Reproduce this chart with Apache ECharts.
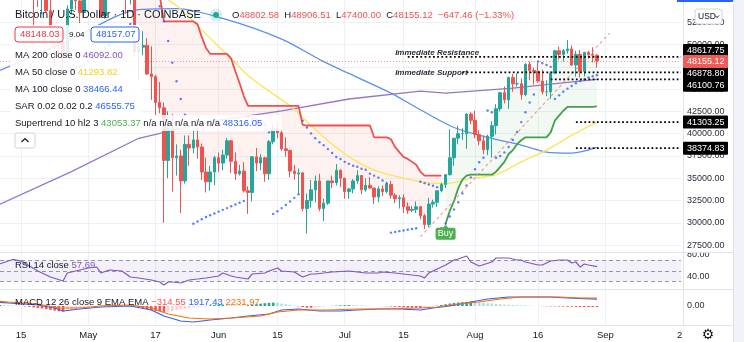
<!DOCTYPE html>
<html><head><meta charset="utf-8">
<script src="https://cdn.jsdelivr.net/npm/echarts@6/dist/echarts.min.js"></script>
<style>html,body{margin:0;padding:0;background:#fff}#c{width:744px;height:342px}</style>
</head><body><div id="c"></div>
<script>
// ---------- categories ----------
const startDay = Date.UTC(2021, 3, 10);
const dates = [];
for (let i = 0; i < 163; i++) dates.push(new Date(startDay + i * 86400000).toISOString().slice(0, 10));
const tickLabels = {'2021-04-15':'15','2021-05-01':'May','2021-05-17':'17','2021-06-01':'Jun','2021-06-15':'15','2021-07-01':'Jul','2021-07-15':'15','2021-08-01':'Aug','2021-08-16':'16','2021-09-01':'Sep'};
const priceTicks = [25000, 55000, 2500];

// ---------- candles [open, high, low, close] Apr 10 .. Aug 30 ----------
const candles = [
[58080,61200,57900,59780],[59780,60700,59000,59970],[59970,61200,59400,59840],[59840,63800,59800,63580],[63580,64900,61000,62960],
[62960,63800,62000,63200],[63200,63600,60000,61400],[61400,62500,59600,60000],[60000,61000,51500,56200],[56200,57500,54200,55700],
[55700,57000,53400,56500],[56500,56800,53600,53800],[53800,55500,50400,51700],[51700,52100,47500,51200],[51200,51200,48800,50100],
[50100,50500,47000,49100],[49100,54400,48800,54000],[54000,55500,53400,55000],[55000,56400,53900,54900],[54900,55200,52400,53600],
[53600,58000,53100,57700],
[57700,58400,57000,57800],[57800,57900,56100,56600],[56600,58900,56500,57200],[57200,57200,53000,53200],[53200,57800,52900,57500],
[57500,58400,55300,56400],[56400,58600,55400,57400],[57400,59500,56900,58900],[58900,59300,56300,58300],[58300,59500,53500,55800],
[55800,56900,54500,56700],[56700,58000,48600,49200],[49200,51400,46000,49700],[49700,51500,48800,49900],[49900,50700,46600,46700],
[46700,49800,43800,46400],[46400,46600,42000,43500],[43500,45800,42300,42900],[42900,43500,30000,37000],[37000,42500,35000,40600],
[40600,42200,33500,37300],[37300,38800,35300,37500],[37500,38200,31100,34700],[34700,39800,34400,38800],[38800,39800,36400,38400],
[38400,40800,37800,39300],[39300,40400,37200,38500],[38500,38900,34800,35700],[35700,37300,33400,34600],[34600,36400,33600,35700],
[35700,37500,34200,37300],
[37300,37900,35700,36700],[36700,38200,35900,37600],[37600,39500,37200,39200],[39200,39300,35600,36900],[36900,37900,34800,35500],
[35500,36500,35300,35800],[35800,36800,33400,33600],[33600,34100,31000,33400],[33400,37500,32400,37400],[37400,38400,35800,36700],
[36700,37700,35900,37300],[37300,37400,34600,35500],[35500,39300,34800,39100],[39100,41000,38800,40500],[40500,41300,39500,40100],
[40100,40500,38100,38300],[38300,39600,37400,38100],[38100,38200,35100,35800],[35800,36500,34800,35500],[35500,36100,33300,35600],
[35600,35700,31300,31600],[31600,33300,28800,32500],[32500,34800,31700,33700],[33700,35300,32300,34700],[34700,35500,31300,31600],
[31600,32700,30200,32200],[32200,34700,32000,34700],[34700,35300,33900,34500],[34500,36600,34200,35900],[35900,36000,34000,35000],
[35000,35000,32700,33500],[33500,33900,32700,33800],[33800,34900,33300,34700],[34700,35900,34400,35300],[35300,35300,33200,33700],
[33700,35000,33500,34200],[34200,35100,33800,33900],[33900,33900,32100,32900],[32900,34100,32300,33800],[33800,34200,33000,33500],
[33500,34600,33300,34300],[34300,34700,32700,33100],[33100,33300,32200,32700],[32700,33100,31600,32800],[32800,33200,31100,31800],
[31800,32300,31000,31400],[31400,31900,31200,31500],[31500,32400,31100,31800],[31800,31900,30400,30800],[30800,31000,29300,29800],
[29800,32800,29500,32100],[32100,32600,31700,32300],[32300,33600,31800,33600],[33600,34500,33400,34300],[34300,35400,33900,35400],
[35400,40500,35300,37300],[37300,39500,36400,39500],[39500,40900,38800,40000],[40000,40600,39300,40000],[40000,42300,38300,42200],
[42200,42400,41100,41500],
[41500,42600,39500,39900],[39900,40400,38700,39200],[39200,39800,37700,38200],[38200,39900,37600,39700],[39700,41400,37300,40900],
[40900,43300,39900,42800],[42800,44700,42500,44600],[44600,45300,43400,43800],[43800,46400,42800,46300],[46300,46700,44700,45600],
[45600,46800,45300,45600],[45600,46200,43800,44400],[44400,47900,44200,47800],[47800,48100,46000,47100],[47100,47400,45500,47000],
[47000,48000,45700,45900],[45900,47200,44400,44700],[44700,46000,44200,44700],[44700,47000,43900,46800],[46800,49400,46700,49300],
[49300,49800,48300,48900],[48900,49500,48100,49300],[49300,50500,49000,49500],[49500,49900,47600,47700],[47700,49300,46400,48900],
[48900,49400,46300,47000],[47000,49200,46400,49100],[49100,49300,48400,48900],[48900,49700,48000,48800],[48802.58,48906.51,47400,48155.12]
];

// ---------- moving averages [index, value] ----------
const ma200 = [[0,32095],[17,35733],[33,39482],[50,41356],[67,42569],[83,43892],[100,44774],[106,44553],[122,45104],[135,45766],[142,46092]];
const ma100 = [[0,47089],[17,50617],[33,53924],[42,54035],[53,52932],[67,50617],[77,48081],[83,46758],[93,44553],[100,42679],[108,40694],[116,39592],[124,38710],[130,37938],[136,37828],[142,38466]];
const ma50 = [[33,57000],[42,54365],[49,51168],[55,48412],[59,46538],[64,44774],[69,43120],[74,40915],[79,38820],[85,36836],[90,35733],[100,34631],[106,34410],[112,34961],[118,35402],[124,36836],[130,38159],[136,39812],[142,41294]];

// ---------- supertrend (down = red, up = green), per day ----------
const stDown = [];
const stUp = [];
const stDownVals = {32:58000,33:58000,34:57500,35:57000,36:56500,37:56000,38:55500,
39:52600,40:52600,41:52600,42:52600,43:52600,44:52600,45:52600,46:52600,47:52270,48:50837,49:49625,
50:48963,51:48963,52:48963,53:48963,54:48963,55:48412,56:46979,57:45656,58:44222,
59:43120,60:43120,61:43120,62:43120,63:43120,64:43120,65:43120,66:43120,67:43120,68:43120,69:43120,70:43120,71:43120,
72:41000,73:40915,74:40915,75:40915,76:40915,77:40915,78:40915,79:40915,80:40915,81:40915,82:40915,83:40915,84:40915,85:40915,86:40915,87:40915,88:40915,
89:39592,90:39592,91:39592,92:39592,93:39371,94:38489,95:37938,96:37387,97:37166,98:36836,99:36505,100:35733,
101:35292,102:35292,103:35292,104:35292,105:35292};
const stUpVals = {106:29890,107:31323,108:32426,109:33859,110:34851,111:35292,112:35402,113:35402,114:35402,115:35402,116:35402,117:35402,
118:35733,119:36284,120:36836,121:37718,122:38159,123:38820,124:39261,125:39592,126:39592,127:39592,128:39592,129:39592,130:39592,
131:40143,132:41466,133:42017,134:42569,135:43010,136:43010,137:43010,138:43010,139:43010,140:43010,141:43010,142:43053.37};
for (let i = 0; i < candles.length; i++) { stDown.push(stDownVals[i] ?? null); stUp.push(stUpVals[i] ?? null); }

// ---------- parabolic SAR ----------
const sarVals = {16:47000,17:47150,18:47310,19:47530,20:47640,21:48100,22:48500,23:48850,24:49200,25:49550,26:49900,27:50300,28:50800,29:51300,30:51800,31:52300,
32:59500,33:59000,34:58400,35:57700,36:56800,37:55700,38:54300,39:52600,40:50400,41:47970,42:45880,43:43890,44:42130,45:40800,
46:29900,47:30150,48:30400,49:30650,50:30850,51:31050,52:31250,53:31450,54:31650,55:31850,56:32050,57:32250,58:32450,
59:41900,60:41700,61:41500,62:41250,63:41000,64:40150,
65:31000,66:31300,67:31650,68:32000,69:32400,70:32800,71:33200,
72:41466,73:40694,74:40033,75:39482,76:39041,77:38710,78:38269,79:37828,80:37387,81:37166,82:36836,83:36615,84:36395,85:36284,86:36064,87:35954,88:35513,89:35292,90:35072,91:34741,92:34410,
93:28900,94:28980,95:29060,96:29140,97:29220,98:29300,99:29380,
100:34600,101:34450,102:34300,103:34150,104:34000,
105:29400,106:29900,107:30700,108:31500,109:32300,110:33300,111:34200,112:35100,113:36000,114:36800,115:37300,
116:42600,117:42400,
118:37300,119:37500,120:37900,121:38500,122:39300,123:40200,124:41300,125:42400,126:43500,127:44400,
128:48100,129:47900,130:47700,131:47500,
132:43900,133:44300,134:44700,135:45050,136:45350,137:45650,138:45900,139:46100,140:46300,141:46450,142:46555.75};

// ---------- levels ----------
const levels = [
  {name:'Immediate Resistance', value:48617.75, from:97},
  {name:'Immediate Support', value:46878.80, from:110},
  {name:'', value:46100.76, from:131},
  {name:'', value:41303.25, from:137},
  {name:'', value:38374.83, from:137}
];
const lastPrice = 48155.12;
const trendLine = [[100,28434],[145,51278]];
const buyIndex = 106;

// ---------- RSI [index, value] ----------
const rsiPts = [[0,63],[3,71],[5,68],[7,58.9],[9,49.6],[12,38.5],[15,31.1],[16,45.9],[17,47.8],[19,51.5],[21,55.2],[23,57],[24,45.9],[26,51.5],[29,49.6],[31,38.5],[33,36.7],[36,33],[38,29.3],[39,23.7],[40,29.3],[41,29.3],[43,27.4],[45,33],[47,34.8],[49,36.7],[52,40.4],[53,45.9],[55,40.4],[56,38.5],[59,34.8],[60,44.1],[63,45.9],[64,49.6],[66,55.2],[67,49.6],[70,47.8],[72,38.5],[74,44.1],[75,44.1],[77,45.9],[79,47.8],[83,49.6],[85,47.8],[87,45.9],[90,45.9],[91,47.8],[94,45.9],[96,44.1],[98,42.2],[100,40.4],[101,36.7],[102,45.9],[104,53.3],[106,60.7],[108,70],[109,71.9],[111,77.4],[112,66.3],[114,58.9],[117,66.3],[118,73.7],[121,73.7],[123,70],[124,70],[125,66.3],[128,60.7],[129,60.7],[131,68.1],[133,70],[135,70],[136,64.4],[137,66.3],[138,57],[139,62.6],[140,60.7],[142,57.69]];

// ---------- MACD ----------
const macdPts = [[0,1000],[2,849],[9,283],[13,-566],[15,-1415],[19,-849],[24,-283],[31,0],[36,-1132],[39,-2830],[43,-4245],[46,-4528],[50,-3962],[55,-3396],[59,-2830],[64,-2264],[67,-1132],[71,-849],[76,-1415],[81,-1415],[85,-1132],[90,-849],[95,-849],[100,-1132],[103,-566],[107,0],[112,1132],[116,1981],[121,2547],[126,2547],[131,2547],[135,2264],[142,1917.43]];
const signalPts = [[0,1300],[2,1132],[9,566],[14,-566],[19,-566],[24,0],[31,283],[36,-566],[40,-2264],[45,-3396],[50,-3679],[55,-3396],[62,-2830],[66,-1698],[71,-1132],[78,-1132],[85,-849],[90,-849],[100,-566],[104,-283],[109,566],[114,1132],[119,1981],[124,2547],[129,2547],[133,2547],[138,2264],[142,2231.97]];
const histVals = [300,250,200,150,100,60,
-100,-250,-400,-550,-700,
-900,-1100,-1300,-1500,-1600,
-1400,-1150,-900,-700,-500,-350,-200,
-50,100,200,300,350,300,250,200,150,
-150,-400,-650,-900,-1150,-1400,-1550,-1650,-1600,
-1400,-1150,-950,-750,-550,-350,-200,
-150,50,200,300,350,400,350,300,250,200,150,
250,350,500,650,800,900,950,850,700,
500,300,100,-100,-300,-450,-500,-400,-300,-200,
-50,50,120,180,220,250,230,200,160,120,80,50,20,
-30,-80,-150,-220,-300,-380,-450,-500,-520,-560,-480,
-300,-100,100,300,500,700,850,1000,1100,1150,1200,
1100,1000,900,800,700,600,500,400,350,300,250,200,150,100,
50,0,-50,-80,-100,-120,-150,-180,-200,-220,-250,-270,-290,-300,-310,-314.55];

// ---------- build ----------
const FONT = 'Liberation Sans, Arial, sans-serif';
const UP = '#26a69a', DOWN = '#ef5350';
const bodyMid = candles.map(c => (c[0] + c[3]) / 2);
const isTick = (i, v) => Object.prototype.hasOwnProperty.call(tickLabels, v);

function xAx(gi, showLabel) {
  return {type:'category', gridIndex:gi, data:dates, boundaryGap:false,
    axisLine:{show:false}, axisTick:{show:false},
    axisLabel:{show:showLabel, interval:isTick, formatter:v => tickLabels[v] || '', color:'#131722', fontSize:9.5, fontFamily:FONT, margin:5},
    splitLine:{show:true, interval:isTick, lineStyle:{color:'#eef0f5', width:1}}};
}
const redBase = [], redFill = [], greenBase = [], greenFill = [];
for (let i = 0; i < candles.length; i++) {
  redBase.push(stDown[i] != null ? bodyMid[i] : null);
  redFill.push(stDown[i] != null ? stDown[i] - bodyMid[i] : null);
  greenBase.push(stUp[i] != null ? stUp[i] : null);
  greenFill.push(stUp[i] != null ? bodyMid[i] - stUp[i] : null);
}
const sarData = Object.keys(sarVals).map(k => [+k, sarVals[k]]);
const histData = histVals.map((v, i) => {
  const p = i > 0 ? histVals[i - 1] : v;
  let col;
  if (v >= 0) col = v >= p ? '#26a69a' : '#b2dfdb'; else col = v <= p ? '#ff5252' : '#ffcdd2';
  return {value:[i, v], itemStyle:{color:col}};
});
const hidden = {lineStyle:{opacity:0}, showSymbol:false, symbol:'none', silent:true};

const series = [
  Object.assign({type:'line', name:'rb', data:redBase, stack:'r', z:1}, hidden),
  Object.assign({type:'line', name:'rf', data:redFill, stack:'r', z:1, areaStyle:{color:'rgba(239,83,80,0.11)'}}, hidden),
  Object.assign({type:'line', name:'gb', data:greenBase, stack:'g', z:1}, hidden),
  Object.assign({type:'line', name:'gf', data:greenFill, stack:'g', z:1, areaStyle:{color:'rgba(76,175,80,0.10)'}}, hidden),
  {type:'line', data:ma200, showSymbol:false, symbol:'none', z:3, lineStyle:{color:'#9575cd', width:1.3}},
  {type:'line', data:ma100, showSymbol:false, symbol:'none', smooth:0.3, z:3, lineStyle:{color:'#5b8ff0', width:1.3}},
  {type:'line', data:ma50, showSymbol:false, symbol:'none', smooth:0.3, z:3, lineStyle:{color:'#fbe459', width:1.3}},
  {type:'candlestick', data:candles.map(c => [c[0], c[3], c[2], c[1]]), barWidth:3, z:4,
    itemStyle:{color:UP, color0:DOWN, borderColor:UP, borderColor0:DOWN, borderWidth:1},
    markLine:{silent:true, symbol:'none', label:{show:false}, data:[{yAxis:lastPrice}], lineStyle:{color:'#ef5350', type:[1,2], width:1, opacity:0.6}}},
  {type:'line', data:stDown, showSymbol:false, symbol:'none', z:5, lineStyle:{color:'#f0504c', width:1.8}},
  {type:'line', data:stUp, showSymbol:false, symbol:'none', z:5, lineStyle:{color:'#43a047', width:1.8}},
  {type:'scatter', data:sarData, symbolSize:2.4, z:6, itemStyle:{color:'#2962ff'}},
  {type:'line', data:trendLine, showSymbol:false, symbol:'none', z:6, lineStyle:{color:'#f26b67', width:1.1, type:[3,3], opacity:0.7}}
];
levels.forEach(l => series.push({type:'line', data:[[l.from, l.value],[dates.length - 1, l.value]], showSymbol:false, symbol:'none', z:7,
  lineStyle:{color:'#000', width:1.8, type:[1.8,2.4]}}));
series.push({type:'line', xAxisIndex:1, yAxisIndex:1, data:rsiPts, showSymbol:false, symbol:'none', z:5, lineStyle:{color:'#7e57c2', width:1.2},
  markArea:{silent:true, itemStyle:{color:'rgba(126,87,194,0.09)'}, data:[[{yAxis:30},{yAxis:70}]]},
  markLine:{silent:true, symbol:'none', label:{show:false}, data:[{yAxis:70},{yAxis:50},{yAxis:30}], lineStyle:{color:'#9598a1', type:[4,3], width:1}}});
series.push({type:'bar', xAxisIndex:2, yAxisIndex:2, data:histData, barWidth:2.6, z:3});
series.push({type:'line', xAxisIndex:2, yAxisIndex:2, data:macdPts, showSymbol:false, symbol:'none', z:5, lineStyle:{color:'#2962ff', width:1.2}});
series.push({type:'line', xAxisIndex:2, yAxisIndex:2, data:signalPts, showSymbol:false, symbol:'none', z:5, lineStyle:{color:'#ff6d00', width:1.2}});

const axisLabelStyle = {color:'#2a2e39', fontSize:9, fontFamily:FONT, margin:6};
const option = {
  animation:false,
  backgroundColor:'#ffffff',
  grid:[
    {left:0, width:681, top:-4.75, height:272.1},
    {left:0, width:681, top:233.0, height:64.8},
    {left:0, width:681, top:286.9, height:38.2}
  ],
  xAxis:[xAx(0,false), xAx(1,false), xAx(2,true)],
  yAxis:[
    {type:'value', gridIndex:0, position:'right', min:priceTicks[0], max:priceTicks[1], interval:priceTicks[2], scale:true,
      axisLine:{show:false}, axisTick:{show:false},
      axisLabel:Object.assign({formatter:v => v.toFixed(2), showMinLabel:false, showMaxLabel:false}, axisLabelStyle),
      splitLine:{show:true, showMinLine:false, showMaxLine:false, lineStyle:{color:'#eef0f5'}}},
    {type:'value', gridIndex:1, position:'right', min:0, max:120, interval:40,
      axisLine:{show:false}, axisTick:{show:false},
      axisLabel:Object.assign({formatter:v => v.toFixed(2), showMinLabel:false, showMaxLabel:false}, axisLabelStyle),
      splitLine:{show:false}},
    {type:'value', gridIndex:2, position:'right', min:-5400, max:5400, interval:5400,
      axisLine:{show:false}, axisTick:{show:false},
      axisLabel:Object.assign({formatter:v => v.toFixed(2), showMinLabel:false, showMaxLabel:false}, axisLabelStyle),
      splitLine:{show:false}}
  ],
  series:series
};

const chart = echarts.init(document.getElementById('c'), null, {renderer:'canvas', width:744, height:342});
chart.setOption(option);

// ---------- overlay graphics ----------
const Z = 100;
const G = [];
function txt(x, y, text, fill, size, extra) {
  return Object.assign({type:'text', x:x, y:y, z:Z + 2, silent:true,
    style:Object.assign({text:text, fill:fill, fontSize:size, fontFamily:FONT, align:'left', verticalAlign:'middle'}, extra && extra.style || {})}, extra && extra.el || {});
}
function rich(x, y, text, richDef, size) {
  return {type:'text', x:x, y:y, z:Z + 2, silent:true, style:{text:text, rich:richDef, fontSize:size, fontFamily:FONT, align:'left', verticalAlign:'middle', fill:'#131722'}};
}
const P = (gi, i, v) => chart.convertToPixel({gridIndex:gi}, [i, v]);

// panel separators and borders
G.push({type:'rect', z:Z, silent:true, shape:{x:684, y:249.5, width:49, height:2.5}, style:{fill:'#fff'}});
[[0,252.5,733,252.5],[0,289.5,733,289.5],[0,325.5,733,325.5],[683.5,0,683.5,325.5],[733.5,0,733.5,342]].forEach(s =>
  G.push({type:'line', z:Z, silent:true, shape:{x1:s[0], y1:s[1], x2:s[2], y2:s[3]}, style:{stroke:'#e0e3eb', lineWidth:1}}));
G.push({type:'rect', z:Z, silent:true, shape:{x:734, y:0, width:10, height:342}, style:{fill:'#f0f3fa'}});
G.push({type:'rect', z:Z, silent:true, shape:{x:677, y:0, width:56, height:2}, style:{fill:'#2962ff'}});

// legend background
G.push({type:'rect', z:Z, silent:true, shape:{x:10, y:25, width:132, height:90}, style:{fill:'rgba(255,255,255,0.86)'}});
G.push({type:'rect', z:Z, silent:true, shape:{x:10, y:115, width:272, height:16}, style:{fill:'rgba(255,255,255,0.86)'}});

// title row
G.push(txt(15, 15, 'Bitcoin / U.S. Dollar · 1D · COINBASE', '#131722', 11));
G.push({type:'circle', z:Z + 1, silent:true, shape:{cx:216, cy:15, r:6.5}, style:{fill:'rgba(38,166,154,0.18)'}});
G.push({type:'circle', z:Z + 2, silent:true, shape:{cx:216, cy:15, r:3}, style:{fill:'#26a69a'}});
G.push(rich(232, 15, '{k|O}{v|48802.58}  {k|H}{v|48906.51}  {k|L}{v|47400.00}  {k|C}{v|48155.12}  {v|−647.46 (−1.33%)}',
  {k:{fill:'#131722', fontSize:9.5, fontFamily:FONT}, v:{fill:'#ef5350', fontSize:9.5, fontFamily:FONT}}, 9.5));

// bid / ask row
G.push({type:'rect', z:Z + 1, silent:true, shape:{x:15, y:27, width:48, height:15, r:3}, style:{fill:'#fff', stroke:'#f23645', lineWidth:1}});
G.push(txt(20, 34.5, '48148.03', '#f23645', 9.5));
G.push(txt(69, 34.5, '9.04', '#131722', 8));
G.push({type:'rect', z:Z + 1, silent:true, shape:{x:91, y:27, width:48, height:15, r:3}, style:{fill:'#fff', stroke:'#2962ff', lineWidth:1}});
G.push(txt(96, 34.5, '48157.07', '#2962ff', 9.5));

// indicator rows
const rows = [
  ['MA 200 close 0 ', '46092.00', '#7e57c2', 55],
  ['MA 50 close 0 ', '41293.82', '#f2cf1d', 72],
  ['MA 100 close 0 ', '38466.44', '#2962ff', 89],
  ['SAR 0.02 0.02 0.2 ', '46555.75', '#2962ff', 106]
];
rows.forEach(r => G.push(rich(15, r[3], '{k|' + r[0] + '}{v|' + r[1] + '}',
  {k:{fill:'#131722', fontSize:9.5, fontFamily:FONT}, v:{fill:r[2], fontSize:9.5, fontFamily:FONT}}, 9.5)));
G.push(rich(15, 123, '{k|Supertrend 10 hl2 3 }{g|43053.37}{k| n/a n/a n/a n/a n/a }{b|48316.05}',
  {k:{fill:'#131722', fontSize:9.5, fontFamily:FONT}, g:{fill:'#4caf50', fontSize:9.5, fontFamily:FONT}, b:{fill:'#2962ff', fontSize:9.5, fontFamily:FONT}}, 9.5));
G.push({type:'rect', z:Z + 1, silent:true, shape:{x:15, y:133, width:20, height:15, r:2}, style:{fill:'#fff', stroke:'#d1d4dc', lineWidth:1}});
G.push({type:'polyline', z:Z + 2, silent:true, shape:{points:[[21.5,142],[25,138.5],[28.5,142]]}, style:{stroke:'#131722', lineWidth:1.2, fill:null}});

// RSI / MACD legends
G.push(rich(15, 265, '{k|RSI 14 close }{v|57.69}', {k:{fill:'#131722', fontSize:9.5, fontFamily:FONT}, v:{fill:'#7e57c2', fontSize:9.5, fontFamily:FONT}}, 9.5));
G.push(rich(15, 302, '{k|MACD 12 26 close 9 EMA EMA }{r|−314.55} {b|1917.43} {o|2231.97}',
  {k:{fill:'#131722', fontSize:9.5, fontFamily:FONT}, r:{fill:'#ff5252', fontSize:9.5, fontFamily:FONT}, b:{fill:'#2962ff', fontSize:9.5, fontFamily:FONT}, o:{fill:'#ff6d00', fontSize:9.5, fontFamily:FONT}}, 9.5));

// level annotations
const rp = P(0, 94, levels[0].value), sp = P(0, 94, levels[1].value);
G.push(txt(rp[0], rp[1] - 4, levels[0].name, '#2a2e39', 8, {style:{fontStyle:'italic', fontWeight:'bold'}}));
G.push(txt(sp[0], sp[1], levels[1].name, '#2a2e39', 8, {style:{fontStyle:'italic', fontWeight:'bold'}}));

// price tags on the axis
const tagShift = [-6.3, 1, 6, 0, 0];
levels.forEach((l, k) => {
  const y = P(0, 0, l.value)[1] + tagShift[k];
  G.push({type:'rect', z:Z + 3, silent:true, shape:{x:683, y:y - 6.5, width:45, height:13, r:1}, style:{fill:'#000'}});
  G.push(Object.assign(txt(687, y, l.value.toFixed(2), '#fff', 9), {z:Z + 4}));
});
const lpY = P(0, 0, lastPrice)[1] + 0.6;
G.push({type:'rect', z:Z + 3, silent:true, shape:{x:683, y:lpY - 6.5, width:45, height:13, r:1}, style:{fill:'#f05a57'}});
G.push(Object.assign(txt(687, lpY, lastPrice.toFixed(2), '#fff', 9), {z:Z + 4}));

// Buy label
const bp = P(0, buyIndex, stUp[buyIndex]);
G.push({type:'polygon', z:Z + 2, silent:true, shape:{points:[[bp[0] - 3, bp[1] + 4.5], [bp[0], bp[1] + 1], [bp[0] + 3, bp[1] + 4.5]]}, style:{fill:'#4caf50'}});
G.push({type:'rect', z:Z + 2, silent:true, shape:{x:bp[0] - 10, y:bp[1] + 4, width:20, height:12, r:2}, style:{fill:'#4caf50'}});
G.push({type:'text', x:bp[0], y:bp[1] + 10, z:Z + 3, silent:true, style:{text:'Buy', fill:'#fff', fontSize:9, fontFamily:FONT, align:'center', verticalAlign:'middle'}});

// USD box, clipped date label, settings icon
G.push({type:'rect', z:Z + 3, silent:true, shape:{x:695, y:9, width:27, height:15, r:3}, style:{fill:'#fff', stroke:'#d1d4dc', lineWidth:1}});
G.push(Object.assign(txt(698, 16.5, 'USD', '#131722', 8.5), {z:Z + 4}));
G.push({type:'polyline', z:Z + 4, silent:true, shape:{points:[[715,15.5],[717,17.5],[719,15.5]]}, style:{stroke:'#131722', lineWidth:1, fill:null}});
G.push(txt(677, 335, '2', '#131722', 9.5));
G.push({type:'text', x:708, y:335.5, z:Z + 2, silent:true, style:{text:'⚙', fill:'#131722', fontSize:14, fontFamily:'DejaVu Sans', align:'center', verticalAlign:'middle'}});

chart.setOption({graphic:G});
</script>
</body></html>
